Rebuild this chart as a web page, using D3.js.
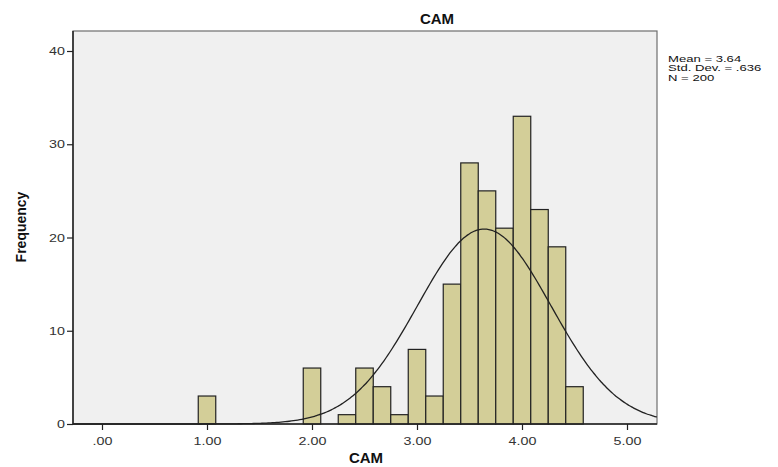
<!DOCTYPE html>
<html>
<head>
<meta charset="utf-8">
<script src="https://cdn.jsdelivr.net/npm/d3@7"></script>
<style>
  body { margin: 0; background: #fff; }
  text { font-family: "Liberation Sans", Arial, sans-serif; }
</style>
</head>
<body>
<svg id="chart" width="778" height="467"></svg>
<script>
// bin centres (k/6) and counts
const binCenters = [1.0, 2.0, 2.3333, 2.5, 2.6667, 2.8333, 3.0, 3.1667, 3.3333, 3.5, 3.6667, 3.8333, 4.0, 4.1667, 4.3333, 4.5];
const counts     = [3,   6,   1,      6,   4,      1,      8,   3,      15,     28,  25,     21,     33,  23,     19,     4];
const binWidth = 1 / 6;
const xTicks = [0, 1, 2, 3, 4, 5];
const xTickLabels = [".00", "1.00", "2.00", "3.00", "4.00", "5.00"];
const yTicks = [0, 10, 20, 30, 40];
const stats = { mean: 3.64, sd: 0.636, n: 200 };
const statLines = ["Mean = 3.64", "Std. Dev. = .636", "N = 200"];

const box = { left: 73, top: 31, right: 657, bottom: 424 };
const stretch = 1.3; // the SPSS export text is drawn wide
const svg = d3.select('#chart');

const x = d3.scaleLinear().domain([0, 5]).range([102, 627]);
const y = d3.scaleLinear().domain([0, 40]).range([424, 51]);

// plot background
svg.append('rect')
    .attr('x', box.left).attr('y', box.top)
    .attr('width', box.right - box.left).attr('height', box.bottom - box.top)
    .attr('fill', '#f0f0f0')
    .attr('stroke', '#6e6e6e').attr('stroke-width', 1.2);

// bars
svg.append('g').selectAll('rect')
    .data(binCenters.map((c, i) => ({ c: c, n: counts[i] })))
    .join('rect')
    .attr('x', d => x(d.c - binWidth / 2))
    .attr('y', d => y(d.n))
    .attr('width', d => x(d.c + binWidth / 2) - x(d.c - binWidth / 2))
    .attr('height', d => y(0) - y(d.n))
    .attr('fill', '#d3ce98')
    .attr('stroke', '#222')
    .attr('stroke-width', 1.2);

// normal curve from the stated mean / sd
const xMin = x.invert(box.left), xMax = x.invert(box.right);
const curvePts = d3.range(xMin, xMax + 0.001, 0.02).map(v => {
    const z = (v - stats.mean) / stats.sd;
    return [v, stats.n * binWidth * Math.exp(-0.5 * z * z) / (stats.sd * Math.sqrt(2 * Math.PI))];
});
svg.append('path')
    .attr('d', d3.line().x(d => x(d[0])).y(d => y(d[1])).curve(d3.curveBasis)(curvePts))
    .attr('fill', 'none')
    .attr('stroke', '#222')
    .attr('stroke-width', 1.3);

// axes
const xAxis = svg.append('g')
    .attr('transform', `translate(0,${box.bottom})`)
    .call(d3.axisBottom(x).tickValues(xTicks).tickFormat((d, i) => xTickLabels[i]).tickSize(6).tickSizeOuter(0));
const yAxis = svg.append('g')
    .attr('transform', `translate(${box.left},0)`)
    .call(d3.axisLeft(y).tickValues(yTicks).tickSize(6).tickSizeOuter(0));

[xAxis, yAxis].forEach(g => {
    g.select('.domain').remove();
    g.selectAll('line').attr('stroke', '#222').attr('stroke-width', 1.2);
    g.selectAll('text').attr('fill', '#333').style('font-size', '11px');
});
xAxis.selectAll('text').attr('dy', '1.1em').attr('transform', `scale(${stretch},1)`);
yAxis.selectAll('text').attr('x', -8 / stretch).attr('transform', `scale(${stretch},1)`);

// left and bottom axis lines
svg.append('line').attr('x1', box.left).attr('x2', box.left)
    .attr('y1', box.top).attr('y2', box.bottom).attr('stroke', '#222').attr('stroke-width', 1.5);
svg.append('line').attr('x1', box.left).attr('x2', box.right)
    .attr('y1', box.bottom).attr('y2', box.bottom).attr('stroke', '#222').attr('stroke-width', 1.5);

// titles
svg.append('text').attr('x', 437).attr('y', 24)
    .attr('text-anchor', 'middle').style('font-size', '15px').style('font-weight', 'bold')
    .attr('fill', '#111').text('CAM');
svg.append('text').attr('x', 366).attr('y', 463)
    .attr('text-anchor', 'middle').style('font-size', '15px').style('font-weight', 'bold')
    .attr('fill', '#111').text('CAM');
svg.append('text')
    .attr('transform', 'translate(26,227) rotate(-90)')
    .attr('text-anchor', 'middle').style('font-size', '14px').style('font-weight', 'bold')
    .attr('fill', '#111').text('Frequency');

// stats block
svg.append('g')
    .attr('transform', `translate(668,0) scale(1.38,1)`)
    .selectAll('text')
    .data(statLines)
    .join('text')
    .attr('x', 0)
    .attr('y', (d, i) => 62 + i * 9.5)
    .style('font-size', '9.5px')
    .attr('fill', '#111')
    .text(d => d);
</script>
</body>
</html>
